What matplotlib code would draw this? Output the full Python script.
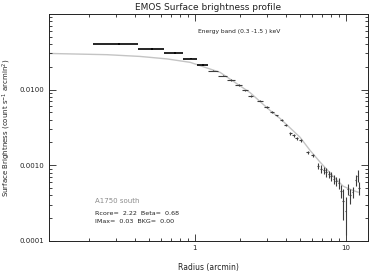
"""
EMOS surface brightness profile of A1750 south, with the beta-model fit
(log-log, IDL-like look: inward ticks on all four sides).
"""
import numpy as np
import matplotlib
matplotlib.use("Agg")
import matplotlib.pyplot as plt
from matplotlib.ticker import FixedLocator, LogLocator, NullFormatter

# measured profile (radius in arcmin, surface brightness in count/s/arcmin2)
radius = [0.316, 0.524, 0.734, 0.938, 1.13, 1.326, 1.53, 1.74, 1.95, 2.155,
          2.34, 2.70, 2.99, 3.23, 3.48, 3.76, 3.99, 4.28, 4.51, 4.72,
          5.02, 5.58, 6.03, 6.56, 6.86, 7.18, 7.40, 7.69, 7.99, 8.30,
          8.63, 8.96, 9.31, 9.60, 9.97, 10.28, 10.68, 11.09, 11.61, 11.97,
          12.25]
radius_err = [0.103, 0.105, 0.105, 0.098, 0.095, 0.100, 0.105, 0.105, 0.104, 0.099,
              0.089, 0.120, 0.100, 0.090, 0.090, 0.090, 0.090, 0.100, 0.090, 0.090,
              0.110, 0.120, 0.120, 0.100, 0.100, 0.100, 0.100, 0.110, 0.110, 0.110,
              0.120, 0.120, 0.120, 0.120, 0.130, 0.130, 0.130, 0.140, 0.140, 0.140,
              0.140]
sb = [0.0399, 0.0343, 0.0304, 0.0256, 0.0211, 0.0178, 0.0153, 0.0134, 0.0115, 0.0098,
      0.0083, 0.00717, 0.00585, 0.00503, 0.00455, 0.00391, 0.00336, 0.00264, 0.00248, 0.00228,
      0.00213, 0.00148, 0.00135, 0.00098, 0.00090, 0.00086, 0.00081, 0.00076, 0.000715, 0.00066,
      0.00062, 0.00058, 0.00046, 0.00034, 0.00025, 0.00048, 0.00040, 0.00044, 0.00064, 0.00073,
      0.00050]
sb_err = [0.0008, 0.0007, 0.0006, 0.0005, 0.0004, 0.0004, 0.0003, 0.0003, 0.0003, 0.0002,
          0.0002, 0.0002, 0.00015, 0.00015, 0.00013, 0.00012, 0.0001, 0.0001, 0.0001, 0.0001,
          0.0001, 0.00008, 0.00008, 0.0001, 0.0001, 0.0001, 0.0001, 0.00009, 0.00009, 0.00009,
          0.00009, 0.00009, 0.00009, 0.00015, 0.00013, 0.00008, 0.00009, 0.00007, 0.0001, 0.00013,
          0.0001]

# fitted beta model
fit_r = [0.108, 0.262, 0.434, 0.656, 0.931, 1.47, 2.32, 3.15, 3.67, 4.98,
         5.80, 6.76, 8.24, 9.60, 11.01, 12.07]
fit_sb = [0.0300, 0.0289, 0.0274, 0.0254, 0.0229, 0.01688, 0.00913, 0.0053, 0.00415, 0.00234,
          0.00157, 0.00110, 0.000717, 0.00053, 0.000469, 0.000441]

ytick_vals = [1e-4, 1e-3, 1e-2]
ytick_labels = ["0.0001", "0.0010", "0.0100"]
xtick_vals = [1, 10]
xtick_labels = ["1", "10"]

n_black = 5  # the innermost, widest bins are drawn heavier

fig = plt.figure(figsize=(3.82, 2.72), dpi=100)
ax = fig.add_axes([0.128, 0.114, 0.835, 0.835])
ax.set_xscale("log")
ax.set_yscale("log")

ax.plot(fit_r, fit_sb, color="#c4c4c4", lw=1.0, zorder=1)

ax.errorbar(radius[:n_black], sb[:n_black], xerr=radius_err[:n_black],
            yerr=sb_err[:n_black], fmt="none", ecolor="black", elinewidth=1.2,
            capsize=0, zorder=2)
ax.errorbar(radius[n_black:], sb[n_black:], xerr=radius_err[n_black:],
            yerr=sb_err[n_black:], fmt="none", ecolor="#3c3c3c", elinewidth=0.8,
            capsize=0, zorder=2)

ax.set_xlim(0.108, 14.0)
ax.set_ylim(1e-4, 0.1)

ax.xaxis.set_major_locator(FixedLocator(xtick_vals))
ax.set_xticklabels(xtick_labels)
ax.yaxis.set_major_locator(FixedLocator(ytick_vals))
ax.set_yticklabels(ytick_labels)
ax.xaxis.set_minor_locator(LogLocator(base=10, subs=np.arange(2, 10)))
ax.yaxis.set_minor_locator(LogLocator(base=10, subs=np.arange(2, 10)))
ax.xaxis.set_minor_formatter(NullFormatter())
ax.yaxis.set_minor_formatter(NullFormatter())

ax.tick_params(which="both", direction="in", top=True, right=True,
               colors="#222222", labelsize=5, width=0.6)
ax.tick_params(which="major", length=5)
ax.tick_params(which="minor", length=2.5)
ax.tick_params(axis="x", pad=3)
for sp in ax.spines.values():
    sp.set_linewidth(0.7)
    sp.set_color("#222222")

ax.set_xlabel("Radius (arcmin)", fontsize=5.5, color="#222222")
ax.set_ylabel("Surface Brightness (count s$^{-1}$ arcmin$^{2}$)", fontsize=5,
              color="#222222")
ax.xaxis.set_label_coords(0.5, -0.097)
ax.yaxis.set_label_coords(-0.114, 0.5)

fig.text(0.545, 0.974, "EMOS Surface brightness profile", ha="center",
         va="center", fontsize=6.5, color="#222222")

ax.text(0.467, 0.921, "Energy band (0.3 -1.5 ) keV", transform=ax.transAxes,
        fontsize=4.3, va="center", ha="left", color="#222222")
ax.text(0.144, 0.178, "A1750 south", transform=ax.transAxes,
        fontsize=5, va="center", ha="left", color="#8c8c8c")
ax.text(0.144, 0.123, "Rcore=  2.22  Beta=  0.68", transform=ax.transAxes,
        fontsize=4.6, va="center", ha="left", color="#222222")
ax.text(0.144, 0.088, "IMax=  0.03  BKG=  0.00", transform=ax.transAxes,
        fontsize=4.6, va="center", ha="left", color="#222222")

fig.savefig("out.png", dpi=100)
